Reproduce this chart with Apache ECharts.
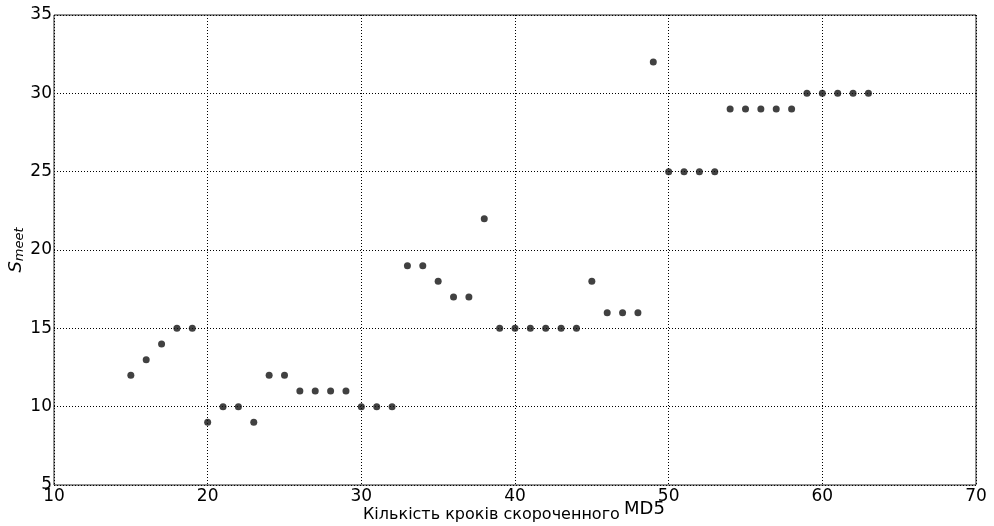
<!DOCTYPE html>
<html>
<head>
<meta charset="utf-8">
<script src="https://cdn.jsdelivr.net/npm/echarts@6/dist/echarts.min.js"></script>
<style>
  html, body { margin: 0; padding: 0; background: #fff; }
  #main { width: 994px; height: 526px; }
</style>
</head>
<body>
<div id="main"></div>
<script>
    // кількість кроків
    var steps = [15, 16, 17, 18, 19, 20, 21, 22, 23, 24, 25, 26, 27, 28, 29, 30, 31, 32,
                 33, 34, 35, 36, 37, 38, 39, 40, 41, 42, 43, 44, 45, 46, 47, 48, 49,
                 50, 51, 52, 53, 54, 55, 56, 57, 58, 59, 60, 61, 62, 63];
    // S_meet
    var sMeet = [12, 13, 14, 15, 15, 9, 10, 10, 9, 12, 12, 11, 11, 11, 11, 10, 10, 10,
                 19, 19, 18, 17, 17, 22, 15, 15, 15, 15, 15, 15, 18, 16, 16, 16, 32,
                 25, 25, 25, 25, 29, 29, 29, 29, 29, 30, 30, 30, 30, 30];

    var xTicks = [10, 20, 30, 40, 50, 60, 70];
    var yTicks = [5, 10, 15, 20, 25, 30, 35];

    var dom = document.getElementById('main');
    var myChart = echarts.init(dom, null, { renderer: 'canvas' });

    var points = steps.map(function (s, i) { return [s, sMeet[i]]; });
    var font = 'DejaVu Sans';

    var option = {
        animation: false,
        backgroundColor: '#fff',
        grid: {
            left: 54, right: 18, top: 15, bottom: 41,
            outerBoundsMode: 'none',
            show: true, borderColor: '#222', borderWidth: 1
        },
        xAxis: {
            type: 'value',
            min: xTicks[0],
            max: xTicks[xTicks.length - 1],
            interval: 10,
            axisLine: { show: false },
            axisTick: { show: false },
            axisLabel: { color: '#000', fontFamily: font, fontSize: 17, margin: 3 },
            splitLine: { show: true, lineStyle: { color: '#000', width: 1, type: [1, 2] } }
        },
        yAxis: {
            type: 'value',
            min: yTicks[0],
            max: yTicks[yTicks.length - 1],
            interval: 5,
            axisLine: { show: false },
            axisTick: { show: false },
            axisLabel: { color: '#000', fontFamily: font, fontSize: 17, margin: 2 },
            splitLine: { show: true, lineStyle: { color: '#000', width: 1, type: [1, 2] } },
            name: '{s|S}{sub|meet}',
            nameLocation: 'middle',
            nameGap: 28,
            nameMoveOverlap: false,
            nameRotate: 90,
            nameTextStyle: {
                rich: {
                    s: { fontFamily: font, fontStyle: 'italic', fontSize: 18, color: '#000' },
                    sub: { fontFamily: font, fontStyle: 'italic', fontSize: 13, color: '#000', padding: [7, 0, 0, 0] }
                }
            }
        },
        graphic: [{
            type: 'text',
            left: 363,
            top: 507,
            style: { text: 'Кількість кроків скороченного', fontFamily: font, fontSize: 16, fill: '#000' }
        }, {
            type: 'text',
            left: 624,
            top: 500,
            style: { text: 'MD5', fontFamily: font, fontSize: 18, fill: '#000' }
        }],
        series: [{
            type: 'scatter',
            data: points,
            symbol: 'circle',
            symbolSize: 7,
            itemStyle: { color: '#111' },
            z: 5
        }]
    };

    option && myChart.setOption(option);
</script>
</body>
</html>
